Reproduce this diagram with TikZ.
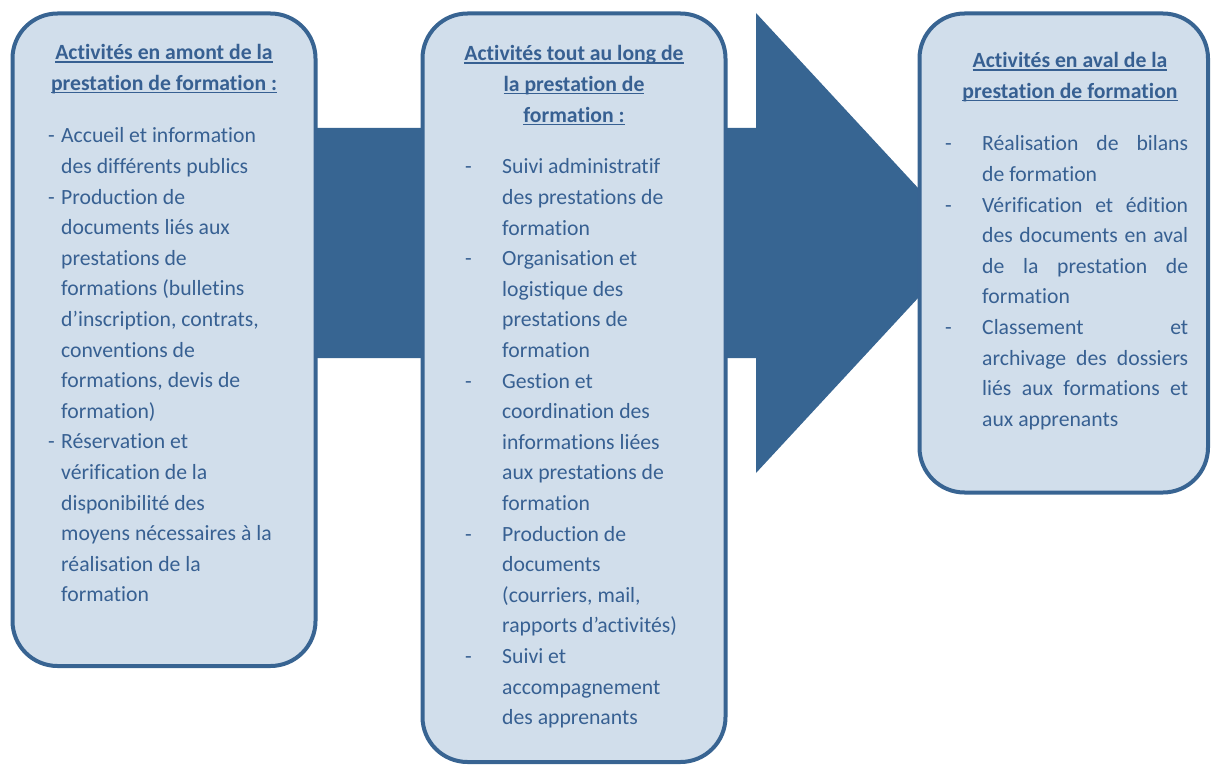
\documentclass[tikz,border=0pt]{standalone}
\usepackage{fontspec}
\setmainfont{Carlito}[Ligatures=NoCommon]
\usepackage{tikz}
\usetikzlibrary{positioning, calc, backgrounds}
\usepackage{xcolor}
\definecolor{boxfill}{HTML}{D1DEEB}
\definecolor{boxline}{HTML}{386492}
\definecolor{arrowblue}{HTML}{376592}
\definecolor{txtblue}{HTML}{376092}
\newcommand{\headul}[1]{\setbox0\hbox{#1}\rlap{\rule[-2.8pt]{\wd0}{1.3pt}}\box0}
\newcommand{\just}[1]{\makebox[206pt][s]{#1}}

\begin{document}
\begin{tikzpicture}[
    x=1pt, y=-1pt,
    every node/.style={font=\fontsize{21.7}{30.6}\selectfont, text=txtblue, inner sep=0pt},
    box/.style={draw=boxline, line width=4pt, fill=boxfill, rounded corners=45pt},
    head/.style={anchor=base, font=\fontsize{21.7}{30.6}\selectfont\bfseries},
    items/.style={anchor=base west},
    bigarrow/.style={fill=arrowblue}
]
    \useasboundingbox (0,0) rectangle (1211,765);

    % the three stages
    \node[box, minimum width=303pt, minimum height=652.5pt] (amont) at (164,339.75) {};
    \node[box, minimum width=303pt, minimum height=748.5pt] (long) at (574,387.75) {};
    \node[box, minimum width=288.5pt, minimum height=479pt] (aval) at (1063.75,253) {};

    % big arrow behind the boxes
    \begin{scope}[on background layer]
        \fill[bigarrow] (amont.center |- 0,128) -- (756,128) -- (756,13) -- (969,243)
            -- (756,473) -- (756,358) -- (amont.center |- 0,358) -- cycle;
    \end{scope}

    % headings
    \node[head] (amonthd) at (164,60) {\begin{tabular}[t]{@{}c@{}}
        \headul{Activités en amont de la}\\
        \headul{prestation de formation :}\end{tabular}};
    \node[head] (longhd) at (574,61) {\begin{tabular}[t]{@{}c@{}}
        \headul{Activités tout au long de}\\
        \headul{la prestation de}\\
        \headul{formation :}\end{tabular}};
    \node[head] (avalhd) at (1070,68) {\begin{tabular}[t]{@{}c@{}}
        \headul{Activités en aval de la}\\
        \headul{prestation de formation}\end{tabular}};

    % lists
    \node[items] (amontlist) at (48,143) {\begin{tabular}[t]{@{}p{13pt}@{}l@{}}
        -& Accueil et information\\
         & des différents publics\\
        -& Production de\\
         & documents liés aux\\
         & prestations de\\
         & formations (bulletins\\
         & d’inscription, contrats,\\
         & conventions de\\
         & formations, devis de\\
         & formation)\\
        -& Réservation et\\
         & vérification de la\\
         & disponibilité des\\
         & moyens nécessaires à la\\
         & réalisation de la\\
         & formation
        \end{tabular}};
    \node[items] (longlist) at (465,174) {\begin{tabular}[t]{@{}p{37pt}@{}l@{}}
        -& Suivi administratif\\
         & des prestations de\\
         & formation\\
        -& Organisation et\\
         & logistique des\\
         & prestations de\\
         & formation\\
        -& Gestion et\\
         & coordination des\\
         & informations liées\\
         & aux prestations de\\
         & formation\\
        -& Production de\\
         & documents\\
         & (courriers, mail,\\
         & rapports d’activités)\\
        -& Suivi et\\
         & accompagnement\\
         & des apprenants
        \end{tabular}};
    \node[items] (avallist) at (945,151) {\begin{tabular}[t]{@{}p{37pt}@{}l@{}}
        -& \just{Réalisation de bilans}\\
         & de formation\\
        -& \just{Vérification et édition}\\
         & \just{des documents en aval}\\
         & \just{de la prestation de}\\
         & formation\\
        -& \just{Classement et}\\
         & \just{archivage des dossiers}\\
         & \just{liés aux formations et}\\
         & aux apprenants
        \end{tabular}};
\end{tikzpicture}
\end{document}
